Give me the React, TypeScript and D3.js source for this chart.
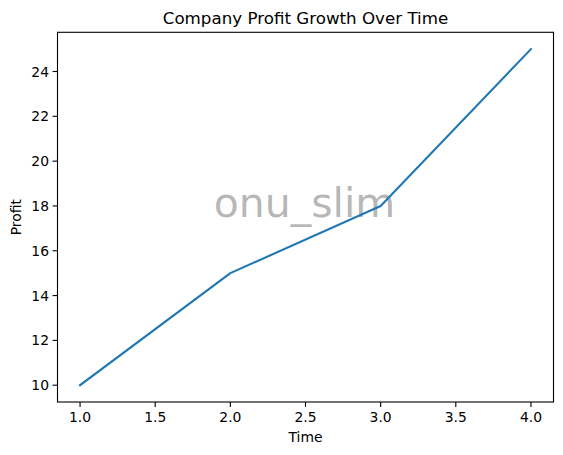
import React from "react";
import * as d3 from "d3";

const times = [1, 2, 3, 4];
const profits = [10, 15, 18, 25];
const xTicks = [1.0, 1.5, 2.0, 2.5, 3.0, 3.5, 4.0];
const yTicks = [10, 12, 14, 16, 18, 20, 22, 24];
const title = "Company Profit Growth Over Time";
const xLabel = "Time";
const yLabel = "Profit";
const watermark = "onu_slim";

const W = 563;
const H = 455;
const left = 57.5;
const right = 553.5;
const top = 32.3;
const bottom = 402;
const font = "DejaVu Sans, sans-serif";

export default function App() {
  const xMin = d3.min(times)!, xMax = d3.max(times)!;
  const yMin = d3.min(profits)!, yMax = d3.max(profits)!;
  const xPad = (xMax - xMin) * 0.05;
  const yPad = (yMax - yMin) * 0.05;
  const x = d3.scaleLinear().domain([xMin - xPad, xMax + xPad]).range([left, right]);
  const y = d3.scaleLinear().domain([yMin - yPad, yMax + yPad]).range([bottom, top]);
  const line = d3
    .line<number>()
    .x((_, i) => x(times[i]))
    .y((d) => y(d));
  const cx = (left + right) / 2;
  const cy = (top + bottom) / 2;
  return (
    <svg
      width={W}
      height={H}
      style={{ position: "absolute", left: 0, top: 0, background: "#fff" }}
      fontFamily={font}
    >
      <rect x={0} y={0} width={W} height={H} fill="#fff" />
      <text x={cx} y={23.5} textAnchor="middle" fontSize={16.7} fill="#000">
        {title}
      </text>
      <text x={cx - 1} y={217} textAnchor="middle" fontSize={41} fill="#000" fillOpacity={0.3}>
        {watermark}
      </text>
      <path d={line(profits) || ""} fill="none" stroke="#1f77b4" strokeWidth={2.08} strokeLinecap="square" strokeLinejoin="round" />
      <rect x={left} y={top} width={right - left} height={bottom - top} fill="none" stroke="#000" strokeWidth={1.1} />
      {xTicks.map((t) => (
        <g key={"x" + t}>
          <line x1={x(t)} x2={x(t)} y1={bottom} y2={bottom + 4.9} stroke="#000" strokeWidth={1.1} />
          <text x={x(t)} y={bottom + 20} textAnchor="middle" fontSize={13.9} fill="#000">
            {t.toFixed(1)}
          </text>
        </g>
      ))}
      {yTicks.map((t) => (
        <g key={"y" + t}>
          <line x1={left} x2={left - 4.9} y1={y(t)} y2={y(t)} stroke="#000" strokeWidth={1.1} />
          <text x={left - 8.5} y={y(t)} dy="0.36em" textAnchor="end" fontSize={13.9} fill="#000">
            {t}
          </text>
        </g>
      ))}
      <text x={cx} y={442} textAnchor="middle" fontSize={13.9} fill="#000">
        {xLabel}
      </text>
      <text
        transform={`translate(${20.5},${cy}) rotate(-90)`}
        textAnchor="middle"
        fontSize={13.9}
        fill="#000"
      >
        {yLabel}
      </text>
    </svg>
  );
}
